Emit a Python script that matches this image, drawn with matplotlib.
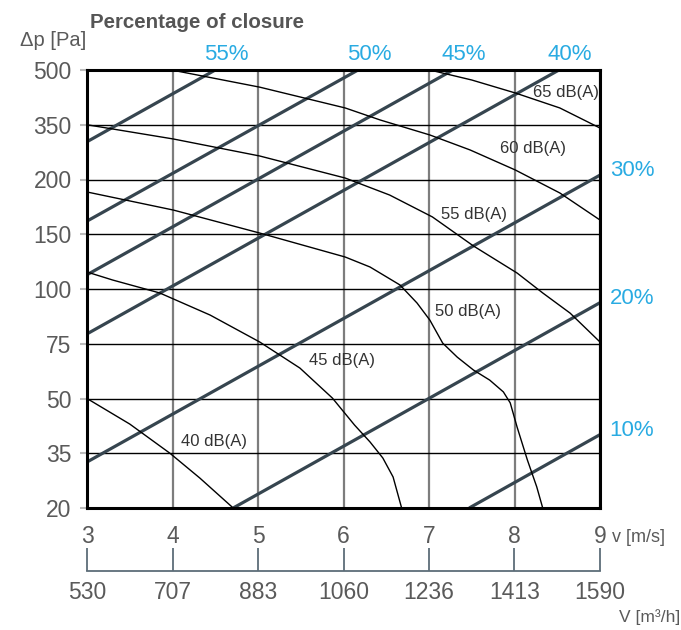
import numpy as np
import matplotlib
matplotlib.use("Agg")
import matplotlib.pyplot as plt

plt.rcParams['font.family'] = ['Liberation Sans', 'DejaVu Sans']

# pressure levels shown on the (uneven) y axis
levels = [20, 35, 50, 75, 100, 150, 200, 350, 500]
speed_ticks = [3, 4, 5, 6, 7, 8, 9]
flow_ticks = [530, 707, 883, 1060, 1236, 1413, 1590]

# percentage of closure lines: (v0, p0) -> (v1, p1)
closure_names = ['55%', '50%', '45%', '40%', '30%', '20%', '10%']
closure_v0 = [3.0, 3.0, 3.0, 3.0, 3.0, 4.71, 7.47]
closure_p0 = [303.5, 162, 113, 79.5, 32.6, 20, 20]
closure_v1 = [4.50, 6.17, 7.28, 8.52, 9.0, 9.0, 9.0]
closure_p1 = [500, 500, 500, 500, 212, 93.75, 40.1]

# noise curves
db40_v = [3.0, 3.50, 3.97, 4.32, 4.71]
db40_p = [50, 43.0, 35, 28.2, 20]

db45_v = [3.0, 3.30, 3.85, 4.44, 5.02, 5.49, 5.87, 6.13, 6.31, 6.46, 6.58, 6.68]
db45_p = [115.5, 108.2, 98.2, 88.1, 75.8, 63.9, 50.2, 42.7, 38.1, 33.7, 28.5, 20]

db50_v = [3.0, 4.01, 5.02, 6.02, 6.31, 6.66, 6.86, 7.01, 7.16, 7.33, 7.52,
          7.71, 7.87, 7.95, 8.03, 8.15, 8.26, 8.33]
db50_p = [188.6, 172.1, 151.1, 129.2, 120.1, 103.7, 93.6, 85.8, 75.3, 68.9, 63.0,
          58.4, 53.0, 48.8, 42.2, 33.2, 25.8, 20]

db55_v = [3.0, 4.01, 5.02, 6.02, 6.54, 7.04, 7.52, 8.03, 8.33, 8.65, 9.0]
db55_p = [350, 311, 264.4, 204, 185.8, 165.8, 139.3, 114.6, 98.2, 89.0, 75.8]

db60_v = [3.99, 5.02, 6.02, 6.43, 7.01, 7.48, 8.01, 8.53, 9.0]
db60_p = [500, 453, 396, 363, 322, 281, 226, 187.7, 163]

db65_v = [7.01, 7.50, 8.01, 8.53, 9.0]
db65_p = [500, 472.6, 437, 396, 341]

noise_labels = ['40 dB(A)', '45 dB(A)', '50 dB(A)', '55 dB(A)', '60 dB(A)', '65 dB(A)']
label_v = [4.49, 5.98, 7.46, 7.53, 8.22, 8.60]
label_p = [38.1, 67.5, 89.5, 167.6, 283.6, 437]

idx = np.arange(len(levels))


def fwd(p):
    return np.interp(p, levels, idx)


def inv(i):
    return np.interp(i, idx, levels)


gray = '#5a5a5a'
blue = '#29abe2'
slate = '#36454f'

fig = plt.figure(figsize=(6.81, 6.30), dpi=100)
ax = fig.add_axes([87 / 681, 1 - 508 / 630, 513 / 681, 438 / 630])
ax.set_yscale('function', functions=(fwd, inv))
ax.set_xlim(3, 9)
ax.set_ylim(20, 500)

ax.set_xticks(speed_ticks)
ax.set_xticklabels([str(t) for t in speed_ticks])
ax.set_yticks(levels)
ax.set_yticklabels([str(t) for t in levels])
ax.minorticks_off()

ax.xaxis.grid(True, color='#7d7d7d', linewidth=1.6)
ax.yaxis.grid(True, color='black', linewidth=1.0)
ax.set_axisbelow(True)

ax.tick_params(axis='x', length=0, pad=12, labelsize=16.5, labelcolor=gray)
ax.tick_params(axis='y', length=5, width=1.5, color='#bbbbbb', pad=6,
               labelsize=16.5, labelcolor=gray)
for s in ax.spines.values():
    s.set_linewidth(2.2)
    s.set_color('black')

# closure lines
for i, name in enumerate(closure_names):
    ax.plot([closure_v0[i], closure_v1[i]], [closure_p0[i], closure_p1[i]],
            color=slate, linewidth=2.3, solid_capstyle='butt')
    if closure_p1[i] >= 500:
        ax.annotate(name, (closure_v1[i], closure_p1[i]), xytext=(8, 11),
                    textcoords='offset points', ha='center', va='center',
                    fontsize=16, color=blue, annotation_clip=False)
    else:
        ax.annotate(name, (closure_v1[i], closure_p1[i]), xytext=(7, 3),
                    textcoords='offset points', ha='left', va='center',
                    fontsize=16, color=blue, annotation_clip=False)

# noise curves
for cv, cp in [(db40_v, db40_p), (db45_v, db45_p), (db50_v, db50_p),
               (db55_v, db55_p), (db60_v, db60_p), (db65_v, db65_p)]:
    ax.plot(cv, cp, color='black', linewidth=1.0)

for t, lv, lp in zip(noise_labels, label_v, label_p):
    ax.text(lv, lp, t, ha='center', va='center', fontsize=12, color='#333333')

# secondary flow axis
sec = ax.secondary_xaxis(-0.1438, functions=(lambda v: v * 530 / 3,
                                              lambda q: q * 3 / 530))
sec.set_xticks(flow_ticks)
sec.set_xticklabels([str(t) for t in flow_ticks])
sec.tick_params(direction='in', length=16.5, width=1.3, color='#5d6d78',
                pad=7, labelsize=16.5, labelcolor=gray)
sec.spines['bottom'].set_color('#5d6d78')
sec.spines['bottom'].set_linewidth(1.3)

fig.text(90 / 681, 1 - 22 / 630, 'Percentage of closure', fontsize=14.8,
         fontweight='bold', color='#555555', ha='left', va='center')
fig.text(20 / 681, 1 - 40 / 630, 'Δp [Pa]', fontsize=14.5, color=gray,
         ha='left', va='center')
fig.text(612 / 681, 1 - 538 / 630, 'v [m/s]', fontsize=13, color=gray,
         ha='left', va='center')
fig.text(680 / 681, 1 - 617 / 630, 'V [m³/h]', fontsize=12.5, color=gray,
         ha='right', va='center')

fig.savefig('out.png', dpi=100)
